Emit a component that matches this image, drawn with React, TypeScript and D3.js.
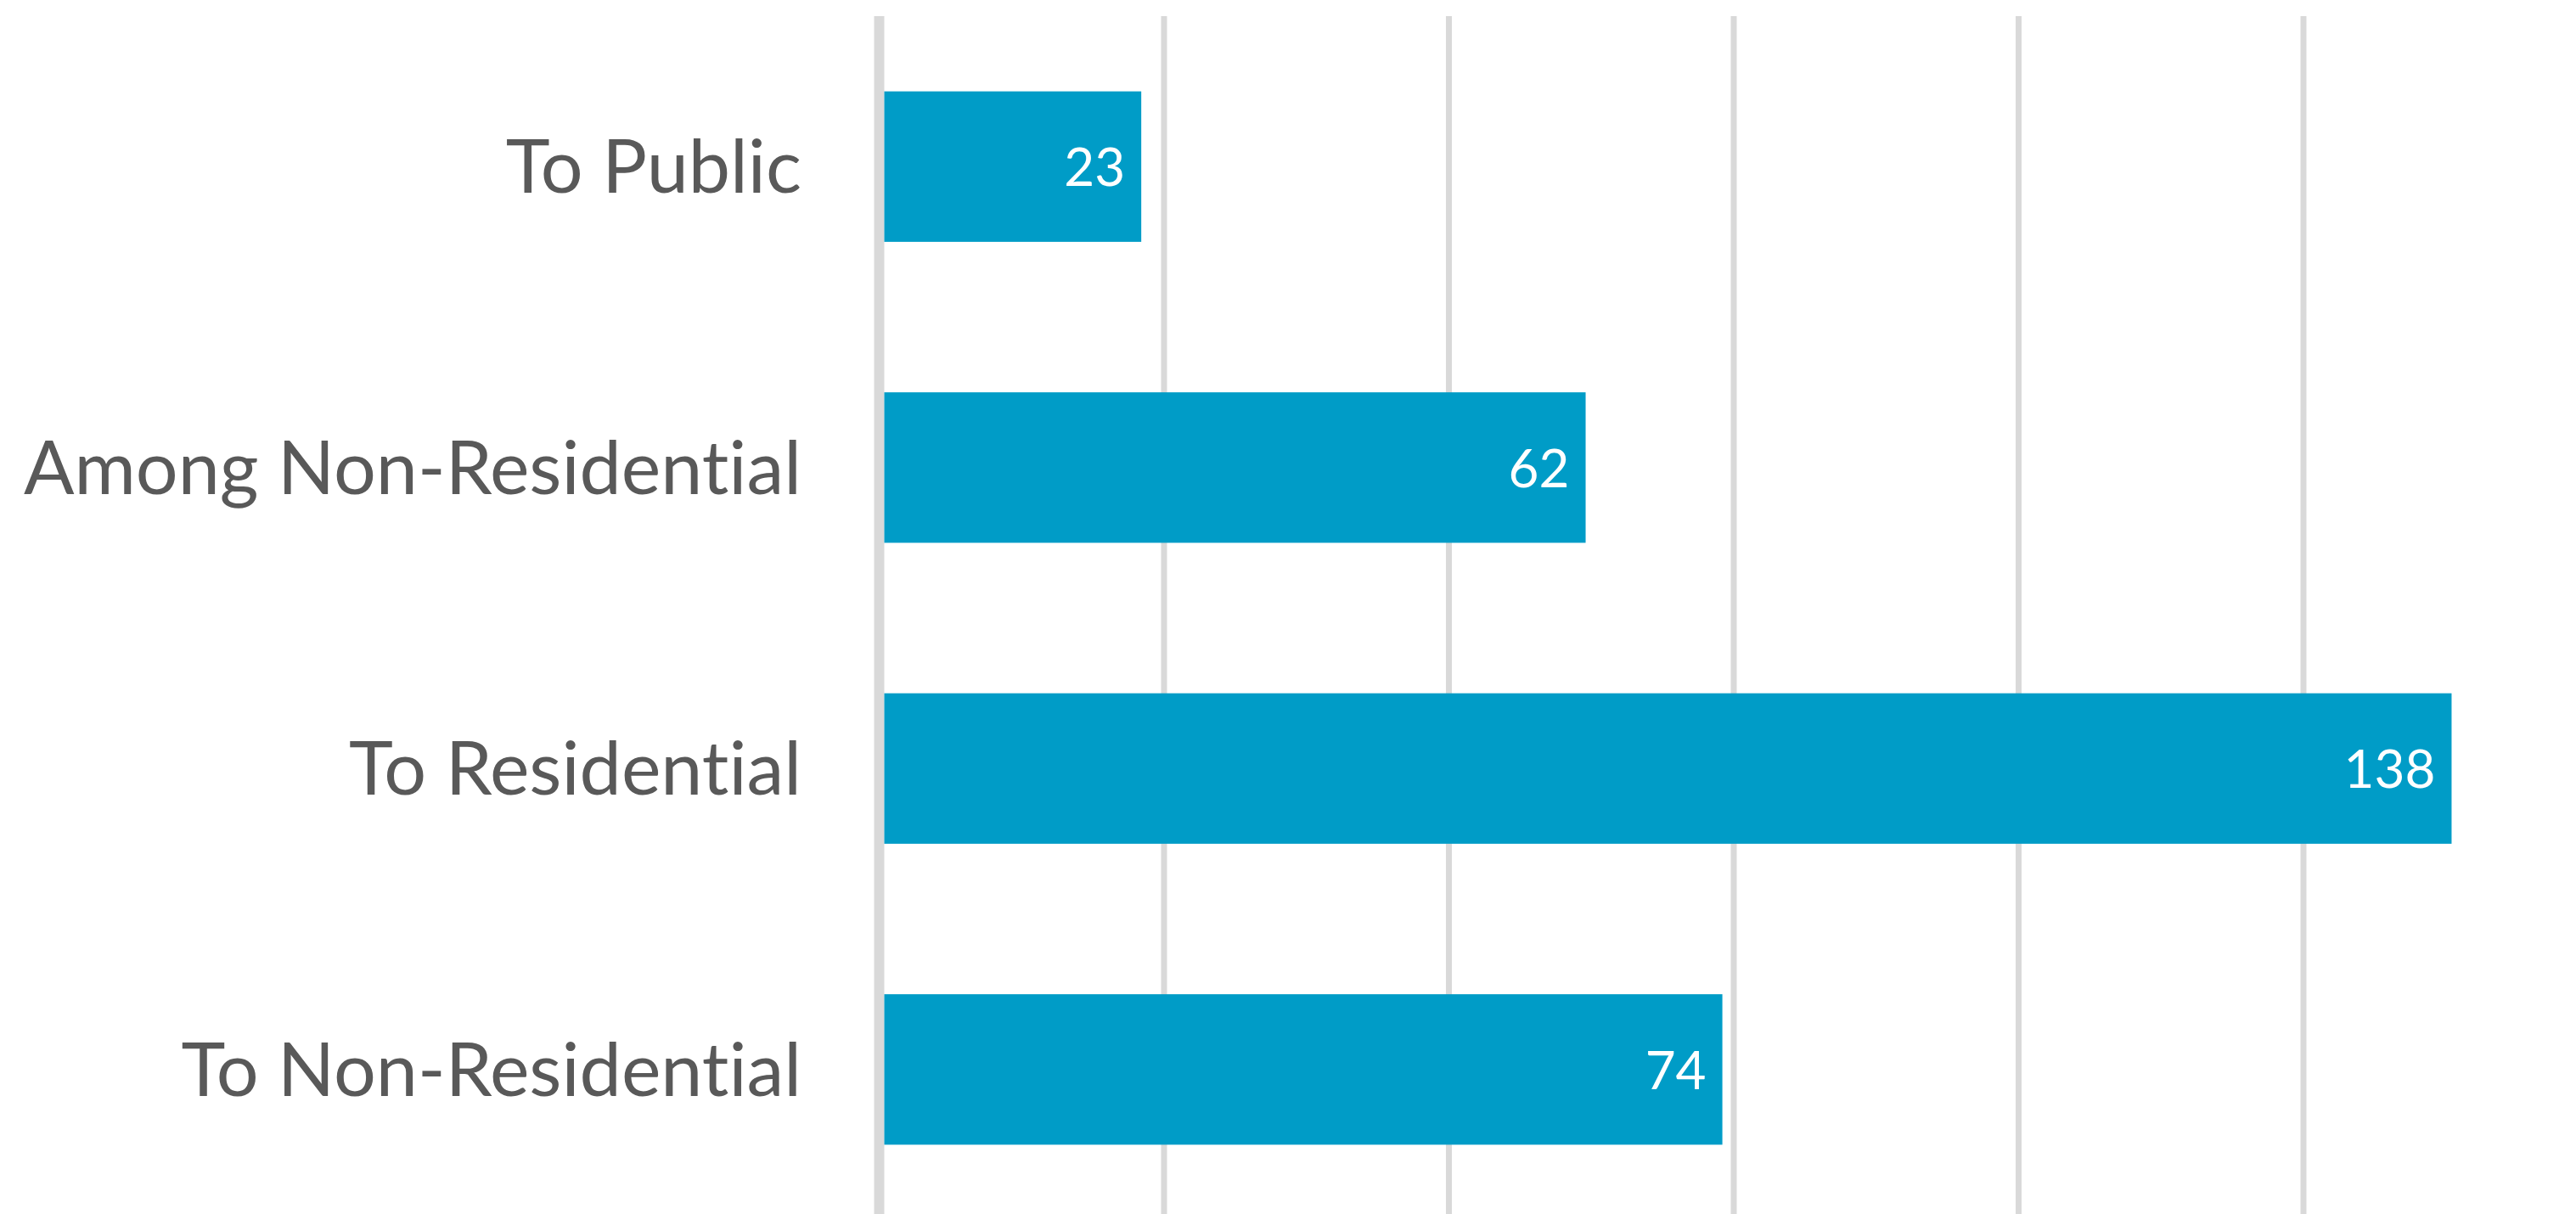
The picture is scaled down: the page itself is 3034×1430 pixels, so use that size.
import React from "react";
import * as d3 from "d3";

const categories = ["To Public", "Among Non-Residential", "To Residential", "To Non-Residential"];
const values = [23, 62, 138, 74];
const ticks = [0, 25, 50, 75, 100, 125, 150];

const W = 3034;
const H = 1430;

export default function App() {
  const x = d3.scaleLinear().domain([0, 150]).range([1035.5, 3048.5]);
  const y = d3
    .scaleBand<string>()
    .domain(categories)
    .range([19, 1437])
    .paddingInner(0.5)
    .paddingOuter(0.25);
  const font = "Lato, 'Open Sans', sans-serif";
  return (
    <svg
      width={W}
      height={H}
      style={{ position: "absolute", left: 0, top: 0, background: "#fff" }}
    >
      {ticks.map((t) => (
        <line
          key={t}
          x1={x(t)}
          x2={x(t)}
          y1={19}
          y2={1437}
          stroke="#d9d9d9"
          strokeWidth={t === 0 ? 12 : 7}
        />
      ))}
      {categories.map((c, i) => {
        const y0 = y(c) as number;
        const bw = y.bandwidth();
        return (
          <g key={c}>
            <rect
              x={x(0) + 6}
              y={y0}
              width={x(values[i]) - x(0) - 6}
              height={bw}
              fill="#009cc7"
            />
            <text
              x={x(values[i]) - 19}
              y={y0 + bw / 2 + 23}
              textAnchor="end"
              fill="#ffffff"
              fontFamily={font}
              fontSize={62}
            >
              {values[i]}
            </text>
            <text
              x={944}
              y={y0 + bw / 2 + 31}
              textAnchor="end"
              fill="#595959"
              fontFamily={font}
              fontSize={88}
              style={{ fontVariantLigatures: "none" }}
            >
              {c}
            </text>
          </g>
        );
      })}
    </svg>
  );
}
